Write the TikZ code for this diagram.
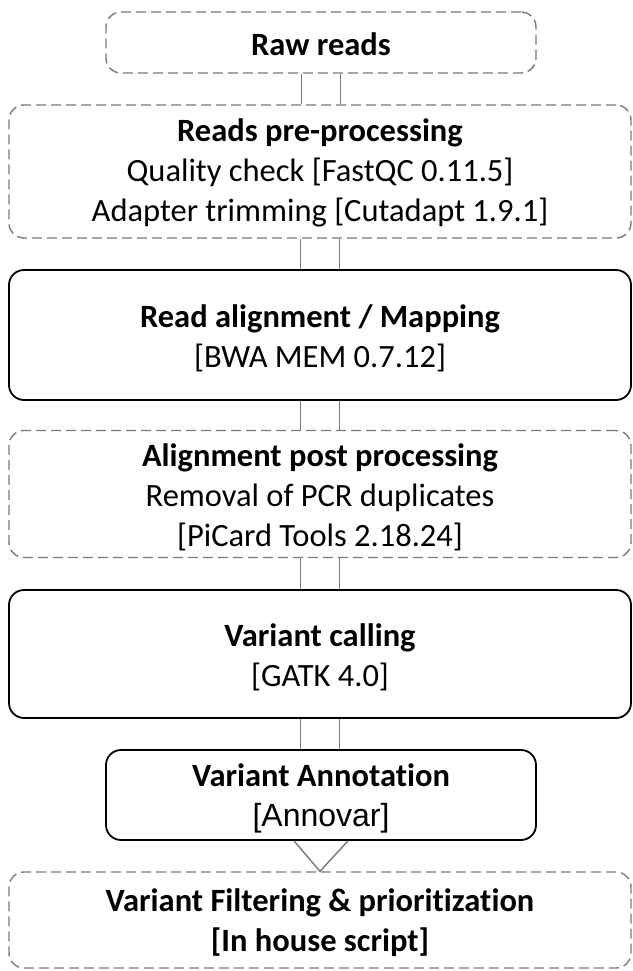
\documentclass[tikz,border=0pt]{standalone}
\usepackage{fontspec}
\setmainfont{Carlito}[RawFeature=-liga]
\newfontfamily\arialfont{Liberation Sans}
\definecolor{dgray}{HTML}{7A7A7A}
\begin{document}
\begin{tikzpicture}[x=1pt,y=-1pt,
  box/.style={rounded corners=15pt, inner sep=0pt, minimum width=622pt},
  dbox/.style={box, draw=dgray, line width=1.4pt, dash pattern=on 10pt off 5pt},
  sbox/.style={box, draw=black, line width=1.8pt},
  narrow/.style={minimum width=430pt},
  txt/.style={align=center, inner sep=0pt, font=\fontsize{32.5}{40}\selectfont},
  link/.style={draw=dgray, line width=1.4pt}
]
\useasboundingbox (0,0) rectangle (632,971);
\node[dbox, narrow, minimum height=61pt] (raw) at (321,42.5) {};
\node[dbox, minimum height=133pt] (pre) at (320,171.5) {};
\node[sbox, minimum height=130pt] (aln) at (320,335) {};
\node[dbox, minimum height=127pt] (post) at (320,494) {};
\node[sbox, minimum height=128pt] (call) at (320,654) {};
\node[sbox, narrow, minimum height=90pt] (ann) at (321,795) {};
\node[dbox, minimum height=96pt] (filt) at (320,920) {};
\node[txt] (raw-t) at ([yshift=-2pt]raw.center) {\textbf{Raw reads}};
\node[txt] (pre-t) at ([yshift=-1pt]pre.center)
  {\textbf{Reads pre-processing}\\Quality check [FastQC 0.11.5]\\Adapter trimming [Cutadapt 1.9.1]};
\node[txt] (aln-t) at ([yshift=-3pt]aln.center)
  {\textbf{Read alignment / Mapping}\\{}[BWA MEM 0.7.12]};
\node[txt] (post-t) at ([yshift=-3pt]post.center)
  {\textbf{Alignment post processing}\\Removal of PCR duplicates\\{}[PiCard Tools 2.18.24]};
\node[txt] (call-t) at ([yshift=-3pt]call.center)
  {\textbf{Variant calling}\\{}[GATK 4.0]};
\node[txt] (ann-t) at ([yshift=-3pt]ann.center)
  {\textbf{Variant Annotation}\\{\arialfont\fontsize{32}{40}\selectfont[Annovar]}};
\node[txt] (filt-t) at ([yshift=-3pt]filt.center)
  {\textbf{Variant Filtering \& prioritization}\\\textbf{[In house script]}};
\foreach \a/\b in {raw/pre, pre/aln, aln/post, post/call, call/ann}{
  \draw[link] ([xshift=-19.5pt]\a.south) -- ([xshift=-19.5pt]\a.south |- \b.north);
  \draw[link] ([xshift=19.5pt]\a.south) -- ([xshift=19.5pt]\a.south |- \b.north);
}
\coordinate (tl) at ([xshift=-27pt]ann.south);
\coordinate (tr) at ([xshift=27pt]ann.south);
\draw[link] (tl) -- (filt.north) -- (tr);
\end{tikzpicture}
\end{document}
